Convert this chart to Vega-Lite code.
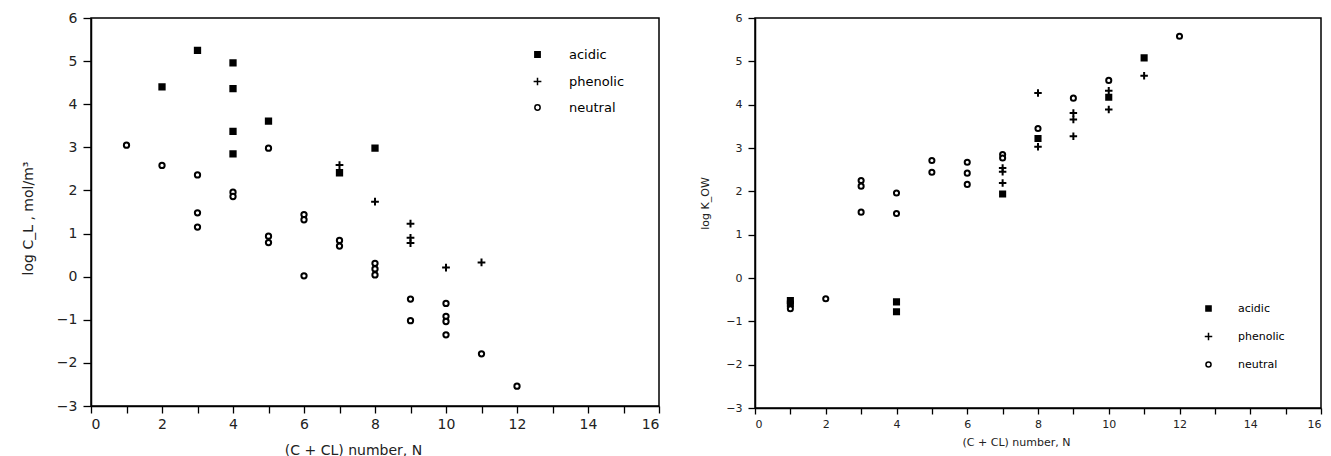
{
  "$schema": "https://vega.github.io/schema/vega-lite/v6.json",
  "background": "white",
  "padding": {"left": 20, "top": 10, "right": 0, "bottom": 0},
  "spacing": 96,
  "bounds": "flush",
  "config": {
    "font": "DejaVu Sans",
    "view": {"stroke": "black", "strokeWidth": 1.5},
    "axis": {"grid": false, "domainColor": "black", "domainWidth": 1.5, "tickColor": "black", "tickWidth": 1.3, "labelColor": "#222", "titleColor": "#222", "titleFontWeight": "normal"}
  },
  "datasets": {
    "left": [
      {"n": 2, "v": 4.40, "type": "acidic"},
      {"n": 3, "v": 5.25, "type": "acidic"},
      {"n": 4, "v": 4.96, "type": "acidic"},
      {"n": 4, "v": 4.36, "type": "acidic"},
      {"n": 4, "v": 3.37, "type": "acidic"},
      {"n": 4, "v": 2.85, "type": "acidic"},
      {"n": 5, "v": 3.61, "type": "acidic"},
      {"n": 7, "v": 2.41, "type": "acidic"},
      {"n": 8, "v": 2.98, "type": "acidic"},
      {"n": 7, "v": 2.59, "type": "phenolic"},
      {"n": 8, "v": 1.74, "type": "phenolic"},
      {"n": 9, "v": 1.23, "type": "phenolic"},
      {"n": 9, "v": 0.90, "type": "phenolic"},
      {"n": 9, "v": 0.78, "type": "phenolic"},
      {"n": 10, "v": 0.21, "type": "phenolic"},
      {"n": 11, "v": 0.33, "type": "phenolic"},
      {"n": 1, "v": 3.05, "type": "neutral"},
      {"n": 2, "v": 2.58, "type": "neutral"},
      {"n": 3, "v": 2.36, "type": "neutral"},
      {"n": 3, "v": 1.48, "type": "neutral"},
      {"n": 3, "v": 1.15, "type": "neutral"},
      {"n": 4, "v": 1.96, "type": "neutral"},
      {"n": 4, "v": 1.86, "type": "neutral"},
      {"n": 5, "v": 2.98, "type": "neutral"},
      {"n": 5, "v": 0.94, "type": "neutral"},
      {"n": 5, "v": 0.79, "type": "neutral"},
      {"n": 6, "v": 1.44, "type": "neutral"},
      {"n": 6, "v": 1.32, "type": "neutral"},
      {"n": 6, "v": 0.02, "type": "neutral"},
      {"n": 7, "v": 0.84, "type": "neutral"},
      {"n": 7, "v": 0.71, "type": "neutral"},
      {"n": 8, "v": 0.31, "type": "neutral"},
      {"n": 8, "v": 0.18, "type": "neutral"},
      {"n": 8, "v": 0.04, "type": "neutral"},
      {"n": 9, "v": -0.52, "type": "neutral"},
      {"n": 9, "v": -1.02, "type": "neutral"},
      {"n": 10, "v": -0.62, "type": "neutral"},
      {"n": 10, "v": -0.92, "type": "neutral"},
      {"n": 10, "v": -1.04, "type": "neutral"},
      {"n": 10, "v": -1.35, "type": "neutral"},
      {"n": 11, "v": -1.79, "type": "neutral"},
      {"n": 12, "v": -2.54, "type": "neutral"}
    ],
    "right": [
      {"n": 1, "v": -0.52, "type": "acidic"},
      {"n": 1, "v": -0.60, "type": "acidic"},
      {"n": 4, "v": -0.55, "type": "acidic"},
      {"n": 4, "v": -0.78, "type": "acidic"},
      {"n": 7, "v": 1.94, "type": "acidic"},
      {"n": 8, "v": 3.22, "type": "acidic"},
      {"n": 10, "v": 4.17, "type": "acidic"},
      {"n": 11, "v": 5.08, "type": "acidic"},
      {"n": 7, "v": 2.54, "type": "phenolic"},
      {"n": 7, "v": 2.45, "type": "phenolic"},
      {"n": 7, "v": 2.19, "type": "phenolic"},
      {"n": 8, "v": 4.27, "type": "phenolic"},
      {"n": 8, "v": 3.03, "type": "phenolic"},
      {"n": 9, "v": 3.81, "type": "phenolic"},
      {"n": 9, "v": 3.66, "type": "phenolic"},
      {"n": 9, "v": 3.27, "type": "phenolic"},
      {"n": 10, "v": 4.32, "type": "phenolic"},
      {"n": 10, "v": 3.89, "type": "phenolic"},
      {"n": 11, "v": 4.67, "type": "phenolic"},
      {"n": 1, "v": -0.71, "type": "neutral"},
      {"n": 2, "v": -0.48, "type": "neutral"},
      {"n": 3, "v": 2.25, "type": "neutral"},
      {"n": 3, "v": 2.12, "type": "neutral"},
      {"n": 3, "v": 1.52, "type": "neutral"},
      {"n": 4, "v": 1.96, "type": "neutral"},
      {"n": 4, "v": 1.49, "type": "neutral"},
      {"n": 5, "v": 2.71, "type": "neutral"},
      {"n": 5, "v": 2.44, "type": "neutral"},
      {"n": 6, "v": 2.67, "type": "neutral"},
      {"n": 6, "v": 2.42, "type": "neutral"},
      {"n": 6, "v": 2.16, "type": "neutral"},
      {"n": 7, "v": 2.85, "type": "neutral"},
      {"n": 7, "v": 2.77, "type": "neutral"},
      {"n": 8, "v": 3.45, "type": "neutral"},
      {"n": 9, "v": 4.15, "type": "neutral"},
      {"n": 10, "v": 4.56, "type": "neutral"},
      {"n": 12, "v": 5.58, "type": "neutral"}
    ]
  },
  "hconcat": [
    {
      "width": 568,
      "height": 388,
      "data": {"name": "left"},
      "mark": {"type": "point", "stroke": "black", "strokeWidth": 2, "opacity": 1},
      "encoding": {
        "x": {"field": "n", "type": "quantitative", "scale": {"domain": [0, 16], "nice": false},
          "axis": {"values": [0,1,2,3,4,5,6,7,8,9,10,11,12,13,14,15,16], "labelExpr": "datum.value % 2 == 0 ? datum.label : ''", "tickSize": 7, "labelFontSize": 14, "labelPadding": 4,
            "title": "(C + CL) number, N", "titleFontSize": 14, "titleX": 262, "titleY": 44, "titleBaseline": "middle"}},
        "y": {"field": "v", "type": "quantitative", "scale": {"domain": [-3, 6], "nice": false},
          "axis": {"values": [-3,-2,-1,0,1,2,3,4,5,6], "tickSize": 8, "labelFontSize": 14, "labelPadding": 6,
            "title": "log C_L , mol/m³", "titleFontSize": 14, "titleX": -63, "titleY": 200, "titleAngle": -90, "titleAlign": "center", "titleBaseline": "middle"}},
        "shape": {"field": "type", "type": "nominal", "title": null,
          "scale": {"domain": ["acidic", "phenolic", "neutral"], "range": ["square", "M-1,0H1M0,-1V1", "circle"]},
          "legend": {"orient": "none", "legendX": 440, "legendY": 30, "labelFontSize": 13, "rowPadding": 12, "labelOffset": 25, "symbolStrokeColor": "black"}},
        "fill": {"field": "type", "type": "nominal", "title": null,
          "scale": {"domain": ["acidic", "phenolic", "neutral"], "range": ["black", "black", "white"]}},
        "size": {"field": "type", "type": "nominal", "title": null,
          "scale": {"type": "ordinal", "domain": ["acidic", "phenolic", "neutral"], "range": [28, 60, 28]}}
      }
    },
    {
      "width": 566,
      "height": 390,
      "data": {"name": "right"},
      "mark": {"type": "point", "stroke": "black", "strokeWidth": 2, "opacity": 1},
      "encoding": {
        "x": {"field": "n", "type": "quantitative", "scale": {"domain": [0, 16], "nice": false},
          "axis": {"values": [0,1,2,3,4,5,6,7,8,9,10,11,12,13,14,15,16], "labelExpr": "datum.value % 2 == 0 ? datum.label : ''", "tickSize": 6, "labelFontSize": 11, "labelPadding": 4,
            "title": "(C + CL) number, N", "titleFontSize": 11, "titleX": 261, "titleY": 34, "titleBaseline": "middle"}},
        "y": {"field": "v", "type": "quantitative", "scale": {"domain": [-3, 6], "nice": false},
          "axis": {"values": [-3,-2,-1,0,1,2,3,4,5,6], "tickSize": 7, "labelFontSize": 11, "labelPadding": 6,
            "title": "log K_OW", "titleFontSize": 11, "titleX": -50, "titleY": 185, "titleAngle": -90, "titleAlign": "center", "titleBaseline": "middle"}},
        "shape": {"field": "type", "type": "nominal", "title": null,
          "scale": {"domain": ["acidic", "phenolic", "neutral"], "range": ["square", "M-1,0H1M0,-1V1", "circle"]},
          "legend": {"orient": "none", "legendX": 448, "legendY": 285, "labelFontSize": 11, "rowPadding": 14, "labelOffset": 24, "symbolStrokeColor": "black"}},
        "fill": {"field": "type", "type": "nominal", "title": null,
          "scale": {"domain": ["acidic", "phenolic", "neutral"], "range": ["black", "black", "white"]}},
        "size": {"field": "type", "type": "nominal", "title": null,
          "scale": {"type": "ordinal", "domain": ["acidic", "phenolic", "neutral"], "range": [26, 56, 26]}}
      }
    }
  ],
  "resolve": {"scale": {"shape": "independent", "fill": "independent", "size": "independent"}, "legend": {"shape": "independent", "fill": "independent", "size": "independent"}}
}
